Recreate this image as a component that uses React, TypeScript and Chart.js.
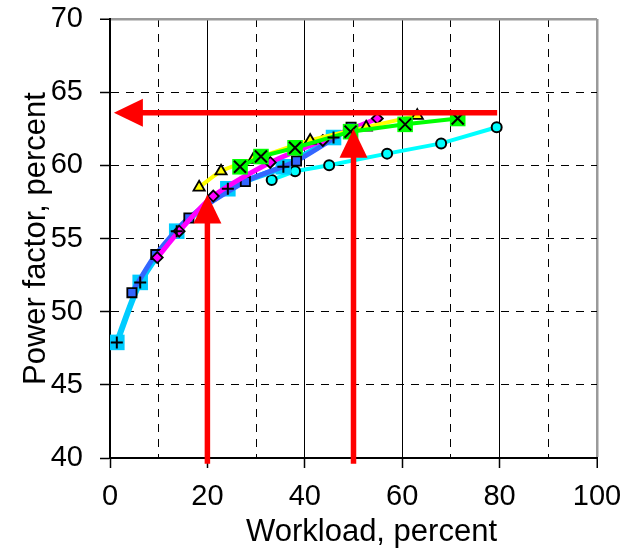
import React, { useEffect, useRef } from 'react';
import { Chart, registerables } from 'chart.js';

Chart.register(...registerables);

// ---- data ----
const cyanX = [1.4, 6.2, 13.7, 24.2, 35.6, 45.9];
const cyanY = [47.9, 52.0, 55.5, 58.4, 59.9, 61.9];
const blueX = [4.5, 9.4, 16.2, 27.8, 38.3, 49.5];
const blueY = [51.3, 53.9, 56.4, 58.9, 60.3, 62.6];
const magentaX = [9.7, 14.2, 21.2, 32.9, 43.7, 54.9];
const magentaY = [53.7, 55.5, 57.9, 60.2, 61.7, 63.2];
const yellowX = [18.3, 22.8, 29.4, 41.1, 52.6, 63.1];
const yellowY = [58.5, 59.6, 60.4, 61.7, 62.6, 63.4];
const greenX = [26.7, 31.0, 38.0, 49.4, 60.6, 71.4];
const greenY = [59.9, 60.6, 61.2, 62.3, 62.8, 63.2];
const aquaX = [33.2, 38.0, 45.0, 56.9, 68.0, 79.4];
const aquaY = [59.0, 59.6, 60.0, 60.8, 61.5, 62.6];

// arrows (data units): from -> to (tip)
const arrowFromX = [79.5, 20, 50];
const arrowFromY = [63.6, 39.6, 39.6];
const arrowToX = [0.8, 20, 50];
const arrowToY = [63.6, 58.0, 62.5];

const xMin = 0, xMax = 100, xStep = 10, xLabelStep = 20;
const yMin = 40, yMax = 70, yStep = 5;
const xTitle = 'Workload, percent';
const yTitle = 'Power factor, percent';

const FONT = '"Liberation Sans", Arial, Helvetica, sans-serif';

const pts = (xs: number[], ys: number[]) => xs.map((x, i) => ({ x, y: ys[i] }));

const arrowPlugin = {
  id: 'arrows',
  afterDatasetsDraw(chart: any) {
    const { ctx, scales } = chart;
    const xs = scales.x, ys = scales.y;
    ctx.save();
    ctx.fillStyle = '#ff0000';
    ctx.strokeStyle = '#ff0000';
    ctx.lineWidth = 5.5;
    ctx.lineCap = 'butt';
    for (let i = 0; i < arrowFromX.length; i++) {
      const x1 = xs.getPixelForValue(arrowFromX[i]);
      const y1 = ys.getPixelForValue(arrowFromY[i]);
      const x2 = xs.getPixelForValue(arrowToX[i]);
      const y2 = ys.getPixelForValue(arrowToY[i]);
      const ang = Math.atan2(y2 - y1, x2 - x1);
      const headLen = 29, headHalf = 14;
      const bx = x2 - Math.cos(ang) * headLen;
      const by = y2 - Math.sin(ang) * headLen;
      ctx.beginPath();
      ctx.moveTo(x1, y1);
      ctx.lineTo(bx + Math.cos(ang) * 2, by + Math.sin(ang) * 2);
      ctx.stroke();
      ctx.beginPath();
      ctx.moveTo(x2, y2);
      ctx.lineTo(bx - Math.sin(ang) * headHalf, by + Math.cos(ang) * headHalf);
      ctx.lineTo(bx + Math.sin(ang) * headHalf, by - Math.cos(ang) * headHalf);
      ctx.closePath();
      ctx.fill();
    }
    ctx.restore();
  },
};

const titlePlugin = {
  id: 'axisTitles',
  afterDraw(chart: any) {
    const { ctx, chartArea } = chart;
    ctx.save();
    ctx.fillStyle = '#000';
    ctx.font = `31px ${FONT}`;
    ctx.textAlign = 'center';
    ctx.textBaseline = 'alphabetic';
    ctx.fillText(xTitle, (chartArea.left + chartArea.right) / 2 + 18, chartArea.bottom + 83);
    ctx.translate(chartArea.left - 65, (chartArea.top + chartArea.bottom) / 2);
    ctx.rotate(-Math.PI / 2);
    ctx.fillText(yTitle, 0, 0);
    ctx.restore();
  },
};

export default function App() {
  const ref = useRef<HTMLCanvasElement | null>(null);

  useEffect(() => {
    document.body.style.margin = '0';
    const canvas = ref.current;
    if (!canvas) return;

    const dashGrid = [8, 7];

    const chart = new Chart(canvas, {
      type: 'line',
      data: {
        datasets: [
          {
            label: 'plus',
            data: pts(cyanX, cyanY),
            showLine: false,
            pointStyle: 'cross',
            pointRadius: 6,
            pointBorderColor: '#000',
            pointBorderWidth: 2,
            borderColor: '#000',
          },
          {
            label: 'x',
            data: pts(greenX, greenY),
            showLine: false,
            pointStyle: 'crossRot',
            pointRadius: 8.5,
            pointBorderColor: '#000',
            pointBorderWidth: 2,
            borderColor: '#000',
          },
          {
            label: 'green',
            data: pts(greenX, greenY),
            borderColor: '#00ff00',
            borderWidth: 4,
            tension: 0,
            pointStyle: 'rect',
            pointRadius: 11,
            pointBackgroundColor: '#00ff00',
            pointBorderWidth: 0,
          },
          {
            label: 'yellow',
            data: pts(yellowX, yellowY),
            borderColor: '#ffff00',
            borderWidth: 4,
            tension: 0.25,
            pointStyle: 'triangle',
            pointRadius: 6.5,
            pointBackgroundColor: '#ffff00',
            pointBorderColor: '#000',
            pointBorderWidth: 1.8,
          },
          {
            label: 'magenta',
            data: pts(magentaX, magentaY),
            borderColor: '#ff00ff',
            borderWidth: 5,
            tension: 0.25,
            pointStyle: 'rectRot',
            pointRadius: 5.5,
            pointBackgroundColor: '#ff00ff',
            pointBorderColor: '#000',
            pointBorderWidth: 1.8,
          },
          {
            label: 'blue',
            data: pts(blueX, blueY),
            borderColor: '#3366ff',
            borderWidth: 5,
            tension: 0.25,
            pointStyle: 'rect',
            pointRadius: 6.5,
            pointBackgroundColor: '#3366ff',
            pointBorderColor: '#000',
            pointBorderWidth: 1.8,
          },
          {
            label: 'cyan',
            data: pts(cyanX, cyanY),
            borderColor: '#00ccff',
            borderWidth: 6,
            tension: 0.25,
            pointStyle: 'rect',
            pointRadius: 11,
            pointBackgroundColor: '#00ccff',
            pointBorderWidth: 0,
          },
          {
            label: 'aqua',
            data: pts(aquaX, aquaY),
            borderColor: '#00ffff',
            borderWidth: 4,
            tension: 0,
            pointStyle: 'circle',
            pointRadius: 5,
            pointBackgroundColor: '#00ffff',
            pointBorderColor: '#000',
            pointBorderWidth: 2,
          },
        ],
      },
      options: {
        responsive: false,
        animation: false,
        events: [],
        layout: { padding: { top: 19, right: 38, left: 0, bottom: 0 } },
        plugins: { legend: { display: false }, tooltip: { enabled: false } },
        scales: {
          x: {
            type: 'linear',
            min: xMin,
            max: xMax,
            afterFit: (s: any) => { s.height = 91; s.paddingLeft = 0; s.paddingRight = 0; },
            ticks: {
              stepSize: xStep,
              autoSkip: false,
              maxRotation: 0,
              padding: 12,
              color: '#000',
              font: { family: FONT, size: 29 },
              callback: (v: any) => (Number(v) % xLabelStep === 0 ? String(v) : ''),
            },
            grid: {
              color: (c: any) => {
                const v = c.tick ? c.tick.value : null;
                if (v === xMin) return 'rgba(0,0,0,0)';
                if (v === xMax) return '#9a9a9a';
                return '#000';
              },
              lineWidth: (c: any) => (c.tick && c.tick.value === xMax ? 2.5 : 1),
              tickColor: (c: any) => (c.tick && c.tick.value % xLabelStep === 0 ? '#000' : 'rgba(0,0,0,0)'),
              tickWidth: 1.5,
              tickLength: 10,
            },
            border: {
              display: true,
              color: '#000',
              width: 2,
              dash: (c: any) => {
                const v = c.tick ? c.tick.value : null;
                if (v === null) return [];
                return v % xLabelStep === 0 ? [] : dashGrid;
              },
            },
          },
          y: {
            type: 'linear',
            min: yMin,
            max: yMax,
            afterFit: (s: any) => { s.width = 110; s.paddingTop = 0; s.paddingBottom = 0; },
            ticks: {
              stepSize: yStep,
              padding: 17,
              color: '#000',
              font: { family: FONT, size: 29 },
            },
            grid: {
              color: (c: any) => {
                const v = c.tick ? c.tick.value : null;
                if (v === yMin) return 'rgba(0,0,0,0)';
                if (v === yMax) return '#9a9a9a';
                return '#000';
              },
              lineWidth: (c: any) => (c.tick && c.tick.value === yMax ? 2.5 : 1),
              tickColor: '#000',
              tickWidth: 1.5,
              tickLength: 10,
            },
            border: {
              display: true,
              color: '#000',
              width: 2,
              dash: (c: any) => {
                const v = c.tick ? c.tick.value : null;
                if (v === null || v === yMax) return [];
                return dashGrid;
              },
            },
          },
        },
      },
      plugins: [arrowPlugin, titlePlugin],
    } as any);

    return () => chart.destroy();
  }, []);

  return (
    <div style={{ position: 'absolute', left: 0, top: 0, width: 635, height: 549 }}>
      <canvas ref={ref} width={635} height={549} style={{ width: 635, height: 549, display: 'block' }} />
    </div>
  );
}
